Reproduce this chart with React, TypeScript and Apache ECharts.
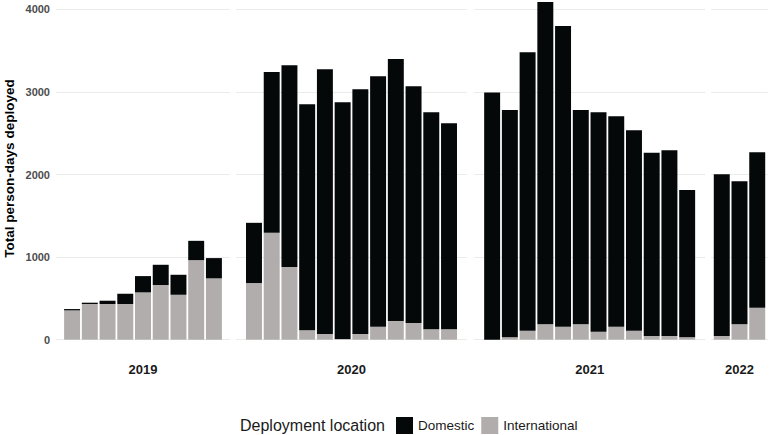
import React, { useEffect, useRef } from "react";
import * as echarts from "echarts";

// ---------- data ----------
const years = ["2019", "2020", "2021", "2022"];
const months2019 = ["Apr", "May", "Jun", "Jul", "Aug", "Sep", "Oct", "Nov", "Dec"];
const months2020 = ["Jan", "Feb", "Mar", "Apr", "May", "Jun", "Jul", "Aug", "Sep", "Oct", "Nov", "Dec"];
const months2021 = ["Jan", "Feb", "Mar", "Apr", "May", "Jun", "Jul", "Aug", "Sep", "Oct", "Nov", "Dec"];
const months2022 = ["Jan", "Feb", "Mar"];

const international2019 = [355, 432, 432, 432, 573, 662, 544, 964, 743];
const domestic2019 = [16, 16, 40, 125, 197, 245, 242, 233, 245];

const international2020 = [686, 1294, 879, 114, 69, 8, 69, 157, 226, 202, 126, 126];
const domestic2020 = [729, 1947, 2443, 2737, 3205, 2867, 2963, 3032, 3173, 2866, 2628, 2495];

const international2021 = [0, 29, 109, 186, 157, 186, 97, 157, 109, 45, 45, 29];
const domestic2021 = [2992, 2753, 3371, 3902, 3641, 2596, 2657, 2549, 2427, 2217, 2249, 1782];

const international2022 = [45, 186, 387];
const domestic2022 = [1959, 1733, 1883];

const yTickStep = 1000;
const yAxisMax = 4400;

const seriesNames = ["Domestic", "International"];
const legendTitle = "Deployment location";
const yTitle = "Total person-days deployed";

// ---------- layout ----------
const panelLeft = [56, 236, 474, 711.3];
const panelWidth = [174, 231, 231.3, 56.4];
const bandPx = 17.73;
const zeroY = 339.7;
const pxPerUnit = (339.7 - 9.3) / 4000;
const W = 770;
const H = 435;

const FONT = "'Liberation Sans', Arial, Helvetica, sans-serif";
const DOM_COLOR = "#050809";
const INT_COLOR = "#b1adac";

export default function App() {
  const ref = useRef<HTMLDivElement>(null);

  useEffect(() => {
    if (!ref.current) return;
    const chart = echarts.init(ref.current, undefined, { renderer: "svg" });

    const months = [months2019, months2020, months2021, months2022];
    const intl = [international2019, international2020, international2021, international2022];
    const dom = [domestic2019, domestic2020, domestic2021, domestic2022];

    const plotHeight = yAxisMax * pxPerUnit;
    const gridTop = zeroY - plotHeight;

    const grids: any[] = [];
    const xAxes: any[] = [];
    const yAxes: any[] = [];
    const series: any[] = [];
    const np = years.length;

    // background panels (gridlines, tick labels, facet labels)
    years.forEach((yr, p) => {
      grids.push({
        left: panelLeft[p],
        width: panelWidth[p],
        top: gridTop,
        height: plotHeight,
        containLabel: false,
        outerBoundsMode: "none",
      });
      xAxes.push({
        type: "value",
        gridIndex: p,
        min: 0,
        max: 1,
        name: yr,
        nameLocation: "middle",
        nameGap: 23,
        nameTextStyle: { fontFamily: FONT, fontSize: 13, fontWeight: "bold", color: "#1a1a1a" },
        axisLine: { show: false },
        axisTick: { show: false },
        axisLabel: { show: false },
        splitLine: { show: false },
      });
      yAxes.push({
        type: "value",
        gridIndex: p,
        min: 0,
        max: yAxisMax,
        interval: yTickStep,
        axisLine: { show: false },
        axisTick: { show: false },
        axisLabel: {
          show: p === 0,
          showMaxLabel: false,
          margin: 6,
          formatter: (v: number) => String(v),
          fontFamily: FONT,
          fontSize: 11,
          fontWeight: "bold",
          color: "#4d4d4d",
        },
        splitLine: { show: true, showMaxLine: false, lineStyle: { color: "#ebebeb", width: 1 } },
      });
    });

    // data panels (bars on category axes)
    years.forEach((yr, p) => {
      const n = months[p].length;
      const w = n * bandPx;
      const gi = np + p;
      grids.push({
        left: panelLeft[p] + (panelWidth[p] - w) / 2,
        width: w,
        top: gridTop,
        height: plotHeight,
        containLabel: false,
        outerBoundsMode: "none",
      });
      xAxes.push({
        type: "category",
        gridIndex: gi,
        data: months[p],
        boundaryGap: true,
        show: false,
      });
      yAxes.push({
        type: "value",
        gridIndex: gi,
        min: 0,
        max: yAxisMax,
        interval: yTickStep,
        show: false,
        splitLine: { show: false },
      });
      series.push({
        name: "International",
        type: "bar",
        xAxisIndex: gi,
        yAxisIndex: gi,
        stack: "s" + yr,
        barCategoryGap: "10%",
        itemStyle: { color: INT_COLOR },
        data: intl[p],
      });
      series.push({
        name: "Domestic",
        type: "bar",
        xAxisIndex: gi,
        yAxisIndex: gi,
        stack: "s" + yr,
        barCategoryGap: "10%",
        itemStyle: { color: DOM_COLOR },
        data: dom[p],
      });
    });

    chart.setOption({
      animation: false,
      backgroundColor: "#ffffff",
      grid: grids,
      xAxis: xAxes,
      yAxis: yAxes,
      series,
      legend: {
        data: seriesNames,
        left: 396,
        top: 417,
        orient: "horizontal",
        padding: 0,
        itemWidth: 17,
        itemHeight: 17,
        itemGap: 7,
        icon: "rect",
        selectedMode: false,
        textStyle: { fontFamily: FONT, fontSize: 13.5, color: "#1a1a1a" },
      },
      graphic: [
        {
          type: "text",
          x: 9,
          y: 168.5,
          rotation: Math.PI / 2,
          style: {
            text: yTitle,
            textAlign: "center",
            textVerticalAlign: "middle",
            fontFamily: FONT,
            fontSize: 13.5,
            fontWeight: "bold",
            fill: "#000000",
          },
        },
        {
          type: "text",
          x: 240,
          y: 425,
          style: {
            text: legendTitle,
            textAlign: "left",
            textVerticalAlign: "middle",
            fontFamily: FONT,
            fontSize: 16,
            fill: "#1a1a1a",
          },
        },
      ],
    });

    return () => chart.dispose();
  }, []);

  return <div ref={ref} style={{ width: W, height: H, position: "absolute", left: 0, top: 0 }} />;
}
